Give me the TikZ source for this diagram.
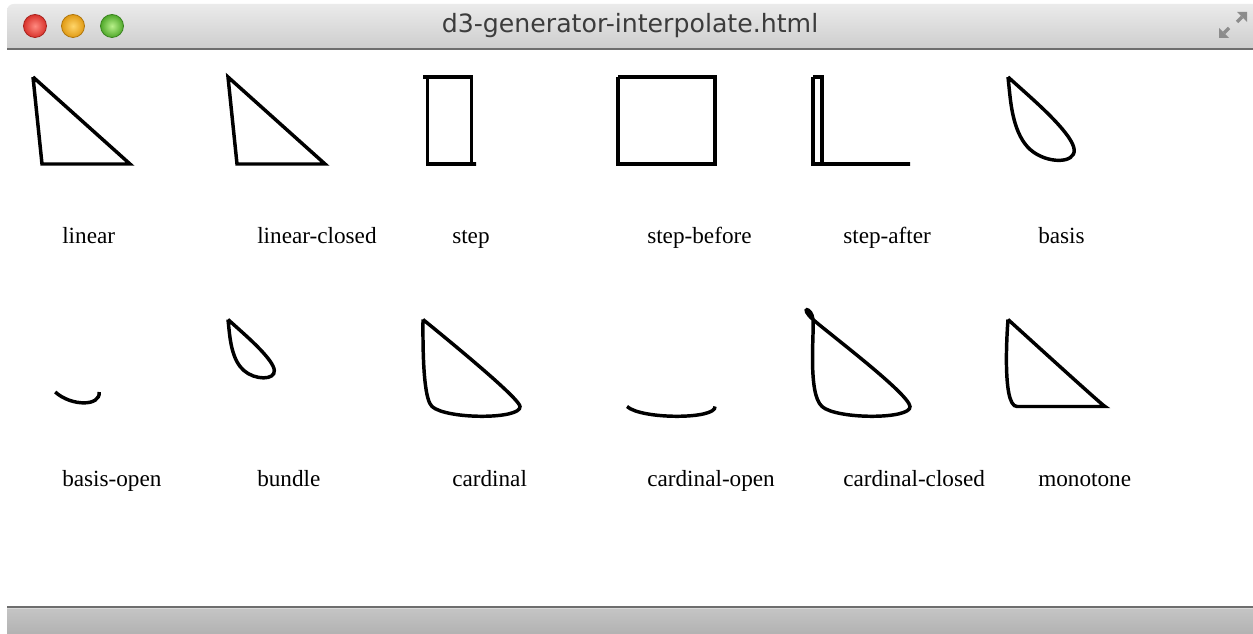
\documentclass[tikz,border=0pt]{standalone}
\usepackage{fontspec}
\newfontfamily\lblfont{Liberation Serif}
\newfontfamily\ttlfont{DejaVu Sans}
\definecolor{barTop}{HTML}{EBEBEB}
\definecolor{barBot}{HTML}{CDCDCD}
\definecolor{barLine}{HTML}{6E6E6E}
\definecolor{statTop}{HTML}{C4C4C4}
\definecolor{statBot}{HTML}{B2B2B2}
\definecolor{statLight}{HTML}{D8D8D8}
\definecolor{iconGray}{HTML}{8C8C8C}
\definecolor{ttlText}{HTML}{3C3C3C}
\definecolor{redIn}{HTML}{FF8A80}
\definecolor{redOut}{HTML}{D8322B}
\definecolor{redRim}{HTML}{A8231E}
\definecolor{ornIn}{HTML}{FFD56A}
\definecolor{ornOut}{HTML}{E09A14}
\definecolor{ornRim}{HTML}{B0760C}
\definecolor{grnIn}{HTML}{B8F08A}
\definecolor{grnOut}{HTML}{4FA82A}
\definecolor{grnRim}{HTML}{3A8420}
\begin{document}
\begin{tikzpicture}[x=0.75pt,y=-0.75pt,
  curve/.style={line width=2.6pt, line join=miter, miter limit=10},
  lbl/.style={anchor=base west, inner sep=0pt, font=\lblfont\fontsize{17.4}{20}\selectfont},
  light/.style={line width=0.6pt},
]
\useasboundingbox (0,0) rectangle (1253,634);
\clip (0,0) rectangle (1253,634);
\fill[white] (0,0) rectangle (1253,634);

% title bar
\shade[top color=barTop, bottom color=barBot]
  (7,49) [rounded corners=5pt] -- (7,4) -- (1270,4) [sharp corners] -- (1270,49) -- cycle;
\fill[barLine] (7,48) rectangle (1253,50);

% window buttons
\shade[inner color=redIn, outer color=redOut] (35,26) circle[radius=11.5];
\draw[redRim, light] (35,26) circle[radius=11.5];
\shade[inner color=ornIn, outer color=ornOut] (73,26) circle[radius=11.5];
\draw[ornRim, light] (73,26) circle[radius=11.5];
\shade[inner color=grnIn, outer color=grnOut] (112,26) circle[radius=11.5];
\draw[grnRim, light] (112,26) circle[radius=11.5];

% full-screen icon
\fill[iconGray] (1237,12) -- (1247,12) -- (1247,22) -- cycle;
\draw[iconGray, line width=2.6pt] (1242,17) -- (1237,22);
\fill[iconGray] (1219,28) -- (1219,38) -- (1229,38) -- cycle;
\draw[iconGray, line width=2.6pt] (1224,33) -- (1229,28);

\node[anchor=base, inner sep=0pt, text=ttlText, font=\ttlfont\fontsize{18.9}{22}\selectfont]
  (title) at (630,33) {d3-generator-interpolate.html};

% status bar
\fill[barLine] (7,605.5) rectangle (1253,607.5);
\fill[statLight] (7,607.5) rectangle (1253,609);
\shade[top color=statTop, bottom color=statBot] (7,609) rectangle (1253,634);

% ---- first row ----
\begin{scope}[shift={(33,77)}]
  \draw[curve] (0,0) -- (9,87) -- (97,87) -- (0,0);
\end{scope}
\begin{scope}[shift={(228,77)}]
  \draw[curve] (0,0) -- (9,87) -- (97,87) -- cycle;
\end{scope}
\begin{scope}[shift={(423,77)}]
  \draw[curve] (0,0) -- (4.5,0) -- (4.5,87) -- (53,87) -- (48.5,87) -- (48.5,0) -- (0,0);
\end{scope}
\begin{scope}[shift={(618,77)}]
  \draw[curve] (0,0) -- (0,87) -- (97,87) -- (97,0) -- (0,0);
\end{scope}
\begin{scope}[shift={(813,77)}]
  \draw[curve] (0,0) -- (9,0) -- (9,87) -- (97,87) -- (0,87) -- (0,0);
\end{scope}
\begin{scope}[shift={(1008,77)}]
  \draw[curve] (0,0) -- (1.5,14.5) .. controls (3,29) and (6,58) .. (22.167,72.5)
    .. controls (38.333,87) and (67.667,87) .. (66.167,72.5)
    .. controls (64.667,58) and (32.333,29) .. (16.167,14.5) -- (0,0);
\end{scope}

\node[lbl] (lab-linear) at (62,244) {linear};
\node[lbl] (lab-linclosed) at (257,244) {linear-closed};
\node[lbl] (lab-step) at (452,244) {step};
\node[lbl] (lab-stepbefore) at (647,244) {step-before};
\node[lbl] (lab-stepafter) at (843,244) {step-after};
\node[lbl] (lab-basis) at (1038,244) {basis};

% ---- second row ----
\begin{scope}[shift={(33,319.5)}]
  \draw[curve] (22.167,72.5) .. controls (38.333,87) and (67.667,87) .. (66.167,72.5);
\end{scope}
\begin{scope}[shift={(228,319.5)}, scale=0.7]
  \draw[curve] (0,0) -- (1.5,14.5) .. controls (3,29) and (6,58) .. (22.167,72.5)
    .. controls (38.333,87) and (67.667,87) .. (66.167,72.5)
    .. controls (64.667,58) and (32.333,29) .. (16.167,14.5) -- (0,0);
\end{scope}
\begin{scope}[shift={(423,319.5)}]
  \draw[curve] (0,0) .. controls (-0.467,52.2) and (2.533,81.2) .. (9,87)
    .. controls (23.55,100.05) and (98.35,100.05) .. (97,87)
    .. controls (96.4,81.2) and (64.067,52.2) .. (0,0);
\end{scope}
\begin{scope}[shift={(618,319.5)}]
  \draw[curve] (9,87) .. controls (23.55,100.05) and (98.35,100.05) .. (97,87);
\end{scope}
\begin{scope}[shift={(813,319.5)}]
  \draw[curve] (0,0) .. controls (1.35,13.05) and (-5.55,73.95) .. (9,87)
    .. controls (23.55,100.05) and (98.35,100.05) .. (97,87)
    .. controls (95.65,73.95) and (14.55,13.05) .. (0,0)
    .. controls (-14.55,-13.05) and (-1.35,-13.05) .. (0,0);
\end{scope}
\begin{scope}[shift={(1008,319.5)}]
  \draw[curve] (0,0) .. controls (0.016,0.153) and (-7.17,87) .. (9,87)
    .. controls (25.17,87) and (98.5,87) .. (97,87)
    .. controls (95.5,87) and (8.957,8.034) .. (0,0);
\end{scope}

\node[lbl] (lab-basisopen) at (62,486) {basis-open};
\node[lbl] (lab-bundle) at (257,486) {bundle};
\node[lbl] (lab-cardinal) at (452,486) {cardinal};
\node[lbl] (lab-cardopen) at (647,486) {cardinal-open};
\node[lbl] (lab-cardclosed) at (843,486) {cardinal-closed};
\node[lbl] (lab-monotone) at (1038,486) {monotone};
\end{tikzpicture}
\end{document}
